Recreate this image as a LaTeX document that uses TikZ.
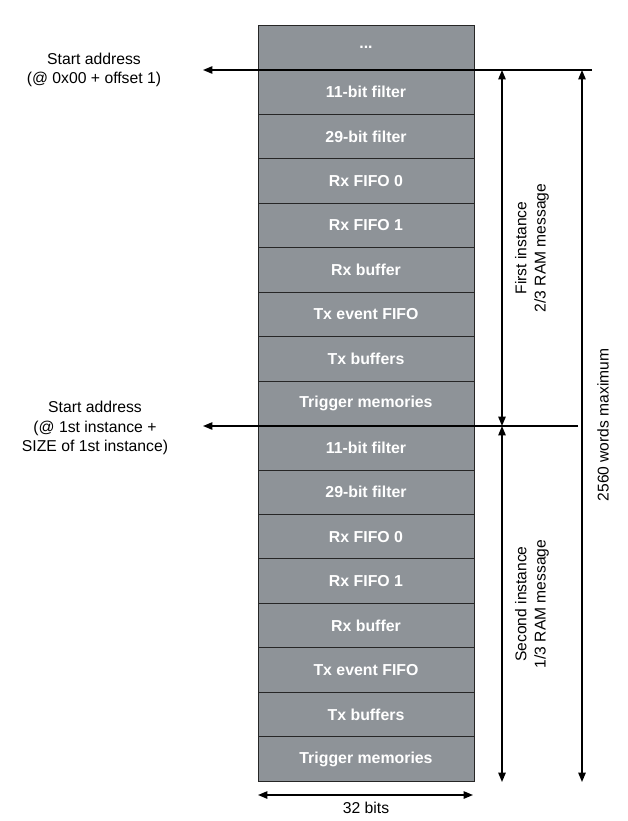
\documentclass[tikz,border=0pt]{standalone}
\usepackage{fontspec}
\setmainfont{Liberation Sans}
\usetikzlibrary{positioning,arrows.meta}
\definecolor{memgray}{HTML}{8E9398}

\begin{document}
\begin{tikzpicture}[
  x=0.75pt, y=-0.75pt,
  node distance=0pt,
  memrow/.style={rectangle, draw=black!85, fill=memgray, line width=0.6pt, minimum width=162pt, minimum height=33.35pt, inner sep=0pt, outer sep=0pt, text=white, font=\fontsize{11.9}{13}\selectfont\bfseries},
  addr/.style={align=center, font=\fontsize{11.8}{14.6}\selectfont},
  span/.style={align=center, rotate=90, font=\fontsize{11.7}{14.4}\selectfont},
  arrow/.style={-{Triangle[length=7pt,width=5.5pt]}, line width=1.1pt},
  twoway/.style={{Triangle[length=7pt,width=5.5pt]}-{Triangle[length=7pt,width=5.5pt]}, line width=1.1pt}
  ]
  \useasboundingbox (0,0) rectangle (628,821);
  % memory column
  \node[memrow] (r0) at (366,47.5) {...};
  \foreach \lbl [count=\i, remember=\i as \j (initially 0)] in {11-bit filter, 29-bit filter, Rx FIFO 0, Rx FIFO 1, Rx buffer, Tx event FIFO, Tx buffers, Trigger memories, 11-bit filter, 29-bit filter, Rx FIFO 0, Rx FIFO 1, Rx buffer, Tx event FIFO, Tx buffers, Trigger memories}
    \node[memrow, below=of r\j] (r\i) {\lbl};
  % start addresses
  \node[addr] (start1) at (94,70) {Start address\\(@ 0x00 + offset 1)};
  \node[addr] (start2) at (95,428) {Start address\\(@ 1st instance +\\SIZE of 1st instance)};
  \coordinate (s1r) at (592,70);
  \coordinate (s1l) at (203,70);
  \coordinate (s2r) at (578,426);
  \coordinate (s2l) at (203,426);
  \draw[arrow] (s1r) -- (s1l);
  \draw[arrow] (s2r) -- (s2l);
  % instance spans
  \coordinate (i1t) at (502,70);
  \coordinate (i1b) at (502,426);
  \coordinate (i2b) at (502,782);
  \coordinate (tot1) at (582,70);
  \coordinate (tot2) at (582,782);
  \draw[twoway] (i1t) -- (i1b);
  \draw[twoway] (i1b) -- (i2b);
  \draw[twoway] (tot1) -- (tot2);
  \node[span] (first) at (532,248) {First instance\\2/3 RAM message};
  \node[span] (second) at (532,604) {Second instance\\1/3 RAM message};
  \node[span] (total) at (603,425) {2560 words maximum};
  % width
  \coordinate (w1) at (258,795);
  \coordinate (w2) at (473,795);
  \draw[twoway] (w1) -- (w2);
  \node[addr] (bits) at (366,808) {32 bits};
\end{tikzpicture}
\end{document}
